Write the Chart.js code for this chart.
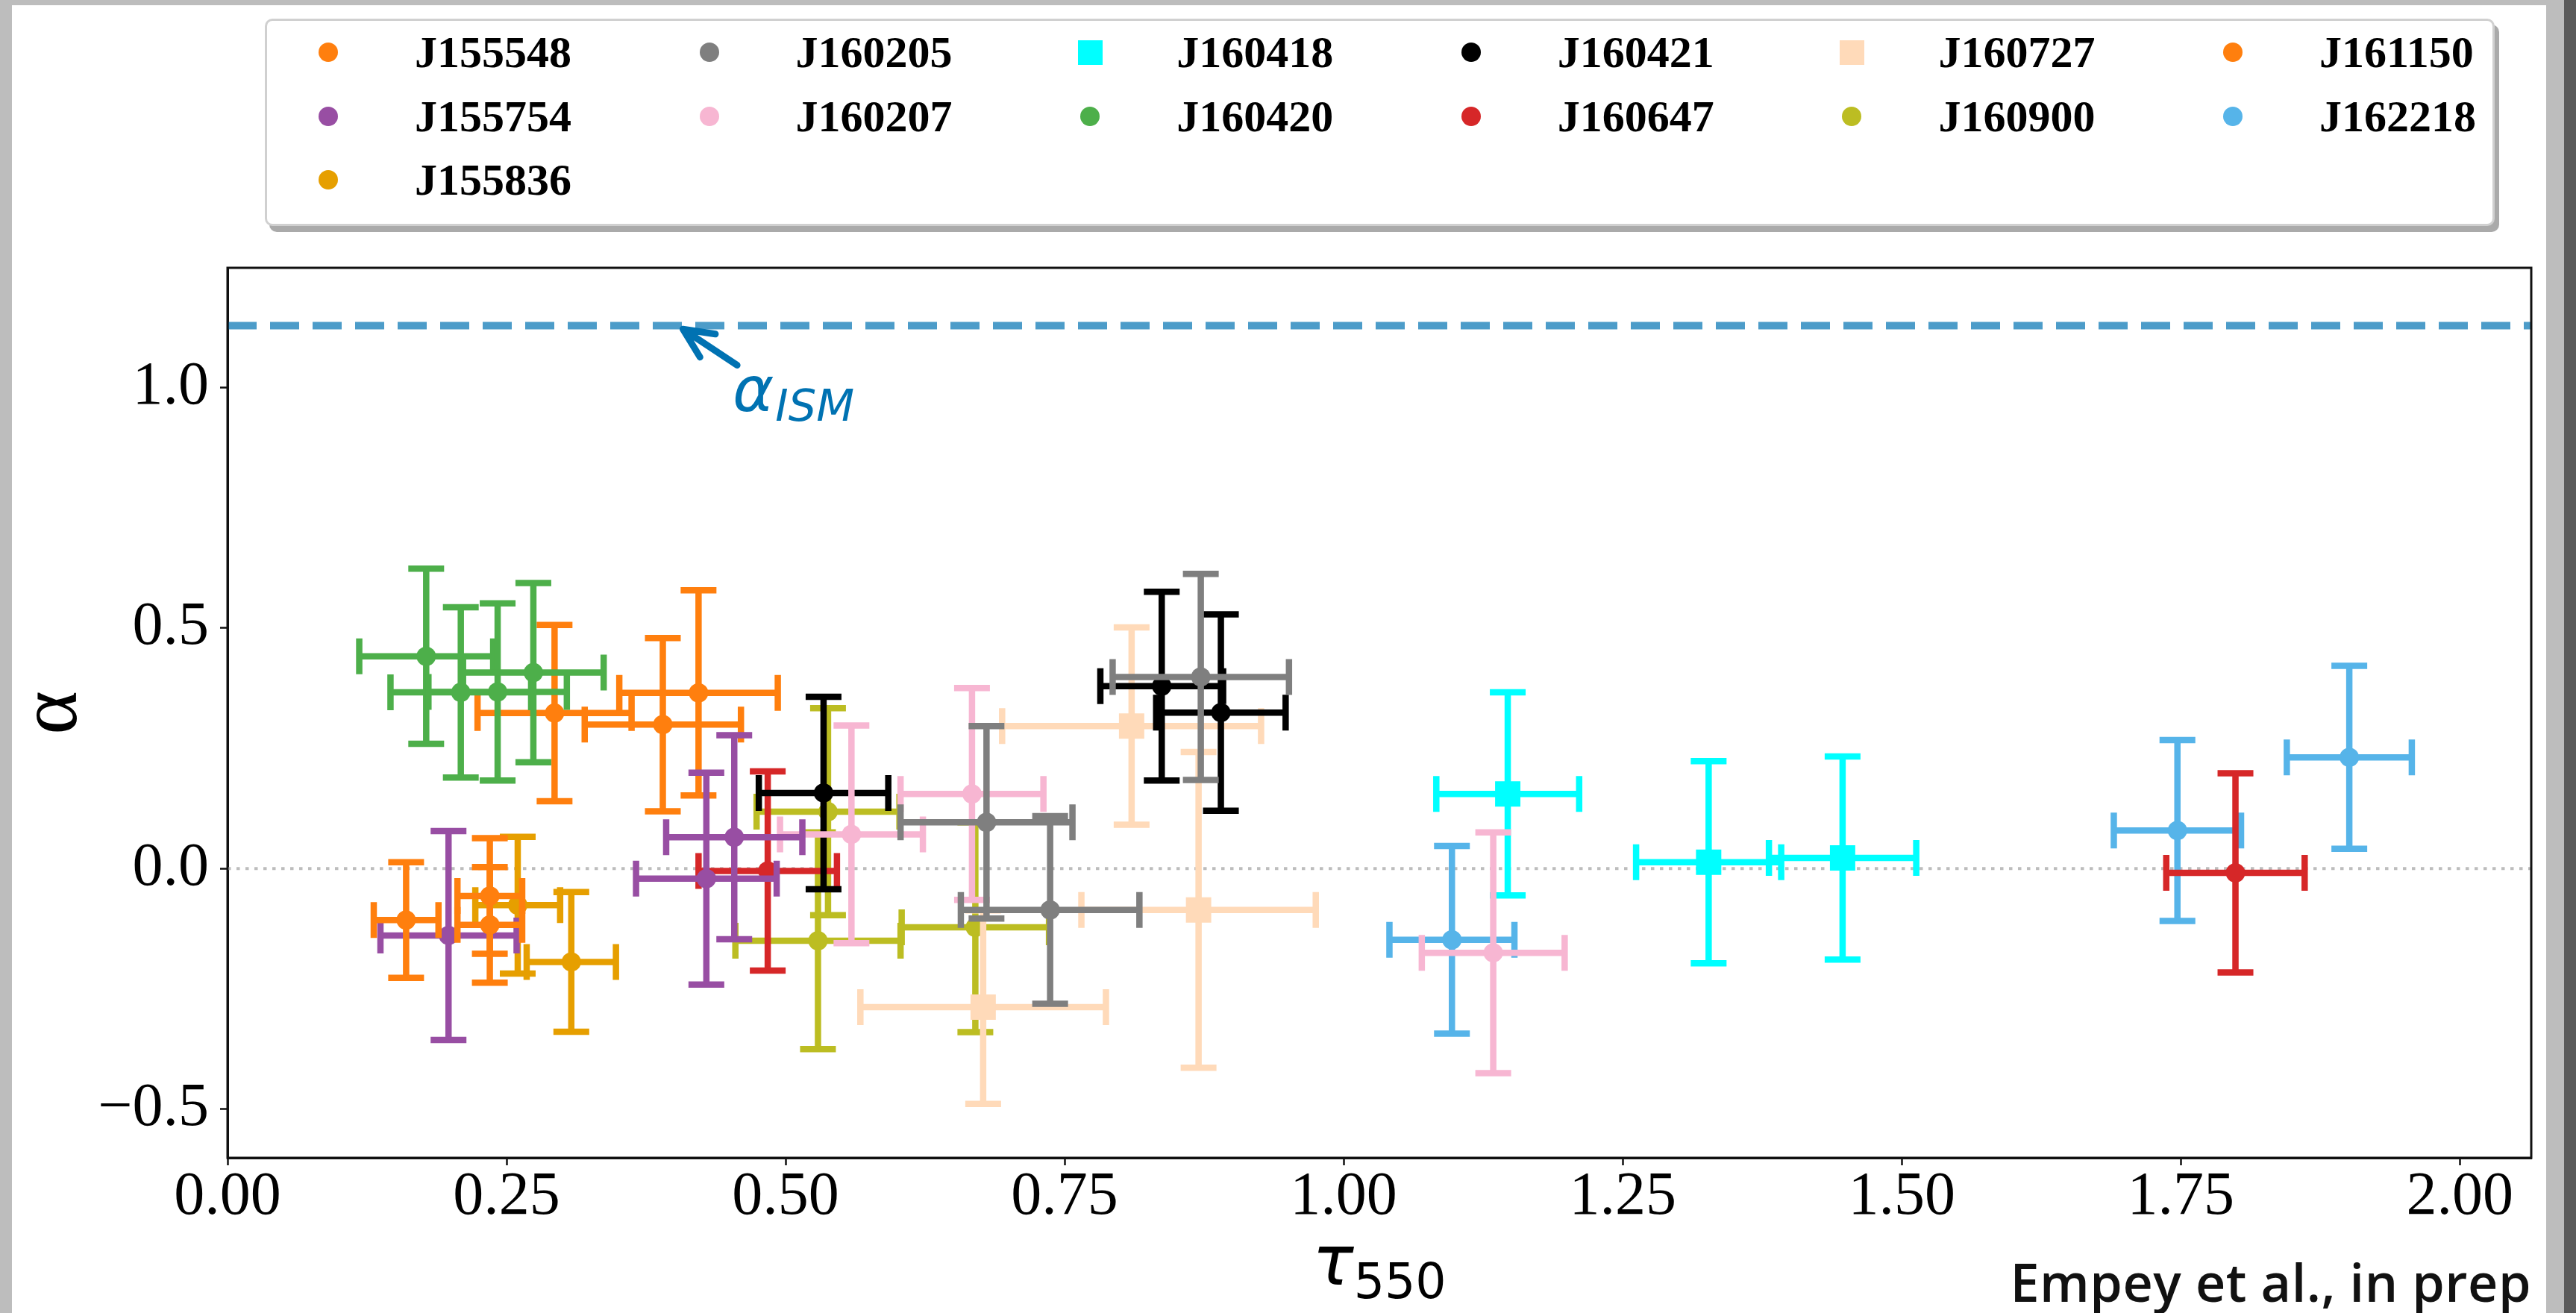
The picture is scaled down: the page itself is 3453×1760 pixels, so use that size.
<!DOCTYPE html>
<html>
<head>
<meta charset="utf-8">
<title>alpha vs tau550</title>
<script src="https://cdn.jsdelivr.net/npm/chart.js@4.4.1/dist/chart.umd.min.js"></script>
<style>
  html, body { margin: 0; padding: 0; background: #fff; }
  body { width: 3453px; height: 1760px; position: relative; overflow: hidden; }
  #chart { position: absolute; left: 0; top: 0; }
  #legend {
    position: absolute; left: 355px; top: 25px; width: 2983px; height: 272px;
    border: 3px solid #d0d0d0; border-radius: 10px; background: #fff;
    box-shadow: 6px 8px 0 #aaaaaa;
  }
  #legend span { position: absolute; font: bold 60px "Liberation Serif", serif; line-height: 80px; color: #000; white-space: nowrap; }
  #credit {
    position: absolute; right: 60px; top: 1683px;
    font: 600 70px "Open Sans", sans-serif; line-height: 1; letter-spacing: 0.5px; color: #111;
  }
  .band { position: absolute; background: #bdbdbd; }
</style>
</head>
<body>
<canvas id="chart" width="3453" height="1760"></canvas>
<div id="legend"></div>
<div id="credit">Empey et al., in prep</div>
<div class="band" style="left:0;top:0;width:3453px;height:7px"></div>
<div class="band" style="left:0;top:0;width:16px;height:1760px"></div>
<div class="band" style="left:3413px;top:0;width:24px;height:1760px"></div>
<div class="band" style="left:3437px;top:0;width:16px;height:1760px;background:#5a5a5a"></div>
<script>
// sources, in legend order
const sourceNames = ['J155548', 'J155754', 'J155836', 'J160205', 'J160207', 'J160418', 'J160420',
                     'J160421', 'J160647', 'J160727', 'J160900', 'J161150', 'J162218'];
const sourceColors = ['#ff7f0e', '#984ea3', '#e69f00', '#7f7f7f', '#f7b6d2', '#00ffff', '#4daf4a',
                      '#000000', '#d62728', '#ffdab9', '#bcbd22', '#ff7f0e', '#56b4e9'];
const sourceMarkers = ['circle', 'circle', 'circle', 'circle', 'circle', 'rect', 'circle',
                       'circle', 'circle', 'rect', 'circle', 'circle', 'circle'];

// one entry per measurement
const pointSource = [
  'J155548', 'J155548', 'J155548',
  'J155754', 'J155754', 'J155754',
  'J155836', 'J155836',
  'J160205', 'J160205', 'J160205',
  'J160207', 'J160207', 'J160207',
  'J160418', 'J160418', 'J160418',
  'J160420', 'J160420', 'J160420', 'J160420',
  'J160421', 'J160421', 'J160421',
  'J160647', 'J160647',
  'J160727', 'J160727', 'J160727',
  'J160900', 'J160900', 'J160900',
  'J161150', 'J161150', 'J161150',
  'J162218', 'J162218', 'J162218'
];
const tau550 = [
  0.160, 0.235, 0.235,
  0.198, 0.454, 0.429,
  0.260, 0.308,
  0.872, 0.680, 0.737,
  0.559, 0.667, 1.134,
  1.147, 1.327, 1.447,
  0.178, 0.209, 0.242, 0.274,
  0.534, 0.837, 0.890,
  0.484, 1.799,
  0.810, 0.870, 0.677,
  0.538, 0.529, 0.670,
  0.293, 0.390, 0.422,
  1.097, 1.747, 1.901
];
const tau550Err = [
  0.029, 0.029, 0.029,
  0.061, 0.061, 0.063,
  0.038, 0.040,
  0.079, 0.077, 0.080,
  0.064, 0.064, 0.064,
  0.064, 0.065, 0.066,
  0.060, 0.063, 0.062, 0.063,
  0.058, 0.055, 0.058,
  0.062, 0.062,
  0.116, 0.105, 0.110,
  0.064, 0.074, 0.066,
  0.069, 0.070, 0.071,
  0.056, 0.057, 0.056
];
const alpha = [
  -0.107, -0.057, -0.117,
  -0.139, 0.065, -0.021,
  -0.076, -0.194,
  0.398, 0.096, -0.086,
  0.071, 0.155, -0.175,
  0.155, 0.013, 0.022,
  0.441, 0.366, 0.367, 0.407,
  0.157, 0.379, 0.324,
  -0.005, -0.009,
  0.296, -0.086, -0.288,
  0.118, -0.150, -0.122,
  0.323, 0.299, 0.365,
  -0.148, 0.079, 0.231
];
const alphaErr = [
  0.120, 0.120, 0.120,
  0.217, 0.212, 0.220,
  0.142, 0.145,
  0.214, 0.200, 0.195,
  0.226, 0.220, 0.250,
  0.211, 0.210, 0.211,
  0.182, 0.177, 0.184, 0.186,
  0.200, 0.196, 0.204,
  0.207, 0.207,
  0.205, 0.328, 0.201,
  0.215, 0.225, 0.218,
  0.183, 0.180, 0.213,
  0.195, 0.188, 0.190
];
const alphaISM = 1.128;
const xTickStep = 0.25;
const yTickStep = 0.5;

const datasets = sourceNames.map(function (name, i) {
  const pts = [];
  pointSource.forEach(function (s, j) {
    if (s === name) pts.push({ x: tau550[j], y: alpha[j], xErr: tau550Err[j], yErr: alphaErr[j] });
  });
  return {
    label: name,
    data: pts,
    backgroundColor: sourceColors[i],
    borderColor: sourceColors[i],
    pointStyle: sourceMarkers[i],
    pointRadius: sourceMarkers[i] === 'rect' ? 24 : 13,
    pointBorderWidth: 0,
    showLine: false
  };
});

// reference lines, drawn under the data
const refLines = {
  id: 'refLines',
  beforeDatasetsDraw(chart) {
    const ctx = chart.ctx, a = chart.chartArea;
    const y0 = chart.scales.y.getPixelForValue(0);
    const yI = chart.scales.y.getPixelForValue(alphaISM);
    ctx.save();
    ctx.beginPath();
    ctx.rect(a.left, a.top, a.right - a.left, a.bottom - a.top);
    ctx.clip();
    ctx.strokeStyle = '#bdbdbd';
    ctx.lineWidth = 4;
    ctx.setLineDash([4.5, 7.5]);
    ctx.beginPath(); ctx.moveTo(a.left, y0); ctx.lineTo(a.right, y0); ctx.stroke();
    ctx.strokeStyle = 'rgba(0,114,178,0.7)';
    ctx.lineWidth = 10;
    ctx.setLineDash([39, 18]);
    ctx.beginPath(); ctx.moveTo(a.left, yI); ctx.lineTo(a.right, yI); ctx.stroke();
    ctx.restore();
  }
};

// x and y error bars with caps, drawn just before each dataset's markers
const errorBars = {
  id: 'errorBars',
  beforeDatasetDraw(chart, args) {
    const ds = chart.data.datasets[args.index];
    const xs = chart.scales.x, ys = chart.scales.y, ctx = chart.ctx;
    const cap = 24;
    ctx.save();
    ctx.strokeStyle = ds.borderColor;
    ctx.lineWidth = 8.5;
    ctx.lineCap = 'butt';
    ds.data.forEach(function (p) {
      const px = xs.getPixelForValue(p.x), py = ys.getPixelForValue(p.y);
      const xl = xs.getPixelForValue(p.x - p.xErr), xr = xs.getPixelForValue(p.x + p.xErr);
      const yb = ys.getPixelForValue(p.y - p.yErr), yt = ys.getPixelForValue(p.y + p.yErr);
      ctx.beginPath();
      ctx.moveTo(xl, py); ctx.lineTo(xr, py);
      ctx.moveTo(px, yb); ctx.lineTo(px, yt);
      ctx.moveTo(xl, py - cap); ctx.lineTo(xl, py + cap);
      ctx.moveTo(xr, py - cap); ctx.lineTo(xr, py + cap);
      ctx.moveTo(px - cap, yb); ctx.lineTo(px + cap, yb);
      ctx.moveTo(px - cap, yt); ctx.lineTo(px + cap, yt);
      ctx.stroke();
    });
    ctx.restore();
  }
};

// full frame, axis titles and the alpha_ISM annotation
const decorations = {
  id: 'decorations',
  afterDraw(chart) {
    const ctx = chart.ctx, a = chart.chartArea;
    const xs = chart.scales.x, ys = chart.scales.y;
    ctx.save();
    ctx.strokeStyle = '#111';
    ctx.lineWidth = 3;
    ctx.strokeRect(a.left, a.top, a.right - a.left, a.bottom - a.top);

    // y title
    ctx.fillStyle = '#000';
    ctx.save();
    ctx.translate(102, (a.top + a.bottom) / 2);
    ctx.rotate(-Math.PI / 2);
    ctx.font = '112px "Liberation Serif"';
    ctx.textAlign = 'center';
    ctx.textBaseline = 'alphabetic';
    ctx.fillText('α', 0, 0);
    ctx.restore();

    // x title: tau with subscript 550
    ctx.textAlign = 'left';
    ctx.textBaseline = 'alphabetic';
    ctx.font = 'italic 92px "DejaVu Sans"';
    const wT = ctx.measureText('τ').width;
    ctx.font = '65px "DejaVu Sans"';
    const wS = ctx.measureText('550').width;
    const x0 = (a.left + a.right) / 2 - (wT + wS) / 2;
    ctx.font = 'italic 92px "DejaVu Sans"';
    ctx.fillText('τ', x0, 1722);
    ctx.font = '65px "DejaVu Sans"';
    ctx.fillText('550', x0 + wT, 1740);

    // alpha_ISM arrow and label
    const tipX = xs.getPixelForValue(0.408), tipY = ys.getPixelForValue(1.1206);
    const tailX = xs.getPixelForValue(0.4566), tailY = ys.getPixelForValue(1.0457);
    const ang = Math.atan2(tailY - tipY, tailX - tipX);
    const head = 44, spread = 25 * Math.PI / 180;
    ctx.strokeStyle = '#0072b2';
    ctx.fillStyle = '#0072b2';
    ctx.lineWidth = 9;
    ctx.lineCap = 'round';
    ctx.lineJoin = 'round';
    ctx.beginPath();
    ctx.moveTo(tailX, tailY); ctx.lineTo(tipX, tipY);
    ctx.moveTo(tipX + head * Math.cos(ang - spread), tipY + head * Math.sin(ang - spread));
    ctx.lineTo(tipX, tipY);
    ctx.lineTo(tipX + head * Math.cos(ang + spread), tipY + head * Math.sin(ang + spread));
    ctx.stroke();
    const lx = xs.getPixelForValue(0.4525), ly = ys.getPixelForValue(0.95);
    ctx.font = 'italic 84px "DejaVu Sans"';
    ctx.fillText('α', lx, ly);
    const wA = ctx.measureText('α').width;
    ctx.font = 'italic 59px "DejaVu Sans"';
    ctx.fillText('ISM', lx + wA + 2, ly + 13);
    ctx.restore();
  }
};

function fmtTick(v, digits) {
  const s = Math.abs(v).toFixed(digits);
  return v < -1e-9 ? '\u2212' + s : s;
}

const chart = new Chart(document.getElementById('chart'), {
  type: 'scatter',
  data: { datasets: datasets },
  options: {
    responsive: false,
    animation: false,
    layout: { padding: { top: 359, right: 60, left: 0, bottom: 0 } },
    plugins: {
      legend: { display: false },
      tooltip: { enabled: false }
    },
    scales: {
      x: {
        type: 'linear',
        min: 0,
        max: 2.064,
        afterFit: function (scale) { scale.height = 208; },
        border: { display: true, color: '#111', width: 3 },
        grid: { drawOnChartArea: false, drawTicks: true, tickLength: 10, tickWidth: 2.5, tickColor: '#111' },
        ticks: {
          stepSize: xTickStep,
          includeBounds: false,
          maxRotation: 0,
          autoSkip: false,
          padding: 2,
          color: '#000',
          font: { family: '"Liberation Serif"', size: 82, lineHeight: 1 },
          callback: function (v) { return fmtTick(v, 2); }
        }
      },
      y: {
        type: 'linear',
        min: -0.601,
        max: 1.248,
        afterFit: function (scale) { scale.width = 305; },
        border: { display: true, color: '#111', width: 3 },
        grid: { drawOnChartArea: false, drawTicks: true, tickLength: 10, tickWidth: 2.5, tickColor: '#111' },
        ticks: {
          stepSize: yTickStep,
          includeBounds: false,
          autoSkip: false,
          padding: 15,
          color: '#000',
          font: { family: '"Liberation Serif"', size: 82, lineHeight: 1 },
          callback: function (v) { return fmtTick(v, 1); }
        }
      }
    }
  },
  plugins: [refLines, errorBars, decorations]
});

// legend laid out like matplotlib's ncol=6 (column-major, first column holds three)
function buildLegend(chart) {
  const box = document.getElementById('legend');
  chart.data.datasets.forEach(function (ds, i) {
    let col, row;
    if (i < 3) { col = 0; row = i; } else { col = 1 + Math.floor((i - 3) / 2); row = (i - 3) % 2; }
    const cx = 82 + col * 510.6, cy = 42.3 + row * 85.4;
    const size = ds.pointStyle === 'rect' ? 33 : 26;
    const mk = document.createElement('div');
    mk.style.cssText = 'position:absolute;left:' + (cx - size / 2) + 'px;top:' + (cy - size / 2) +
      'px;width:' + size + 'px;height:' + size + 'px;background:' + ds.backgroundColor +
      ';border-radius:' + (ds.pointStyle === 'rect' ? '0' : '50%');
    const tx = document.createElement('span');
    tx.textContent = ds.label;
    tx.style.left = (cx + 116) + 'px';
    tx.style.top = (cy - 40) + 'px';
    box.appendChild(mk);
    box.appendChild(tx);
  });
}
buildLegend(chart);
</script>
</body>
</html>
